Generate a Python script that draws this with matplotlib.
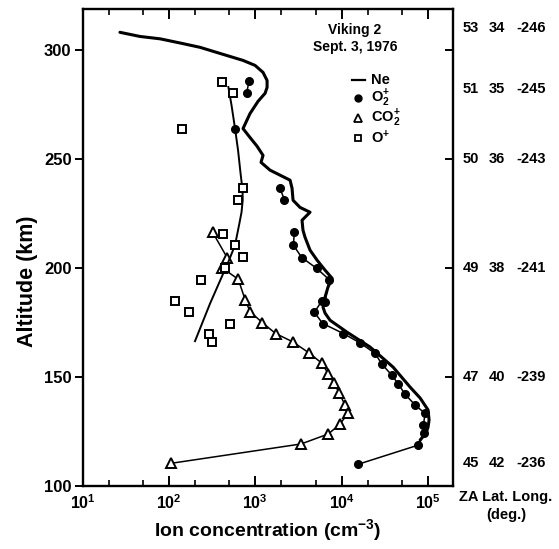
import numpy as np
import matplotlib
matplotlib.use('Agg')
import matplotlib.pyplot as plt
from matplotlib.ticker import NullFormatter, LogLocator

plt.rcParams['font.family'] = ['Liberation Sans', 'DejaVu Sans']
plt.rcParams['font.weight'] = 'bold'
plt.rcParams['axes.labelweight'] = 'bold'
plt.rcParams['mathtext.fontset'] = 'custom'
plt.rcParams['mathtext.rm'] = 'Liberation Sans:bold'
plt.rcParams['mathtext.it'] = 'Liberation Sans:bold:italic'
plt.rcParams['mathtext.bf'] = 'Liberation Sans:bold'
plt.rcParams['mathtext.default'] = 'rm'

# ---------------- data ----------------
# Ne (solid curve): concentration (cm^-3), altitude (km)
ne_conc = [27, 46, 79, 134, 229, 390, 720, 993, 1228, 1368, 1368, 1297, 1074, 868, 720,
           868, 1047, 1228, 1164, 1482, 1936, 2527, 2663, 2735, 3296, 4302, 3475, 3566,
           3765, 4302, 5187, 6420, 7740, 6950, 6420, 6085, 6420, 7340, 11560, 21330,
           39400, 62100, 81100, 100300, 103000, 100300, 95100, 81100]
ne_alt = [308.3, 306.4, 305.3, 303.4, 301.4, 298.6, 295.4, 293.1, 289.9, 286.2, 283.0,
          280.3, 276.6, 271.0, 264.1, 260.0, 256.0, 251.8, 248.6, 245.0, 242.7, 240.4,
          236.7, 231.2, 227.9, 225.7, 222.0, 217.4, 214.2, 208.3, 203.7, 199.1, 195.4,
          191.3, 186.7, 182.1, 179.4, 176.1, 170.6, 163.8, 154.6, 145.4, 140.4, 134.9,
          130.3, 127.1, 124.3, 121.1]

# O2+ (filled circles); NaN separates unconnected groups
o2_conc = [845, 795, np.nan, 582, np.nan, 1933, 2168, np.nan, 2832, 2757, 3448, 5145,
           7150, 6425, 5875, 4830, 6040, 10470, 16330, 24400, 29160, 38100, 45400,
           54300, 70900, 92700, 88500, 90800, 77500, 15600]
o2_alt = [285.9, 280.6, np.nan, 264.1, np.nan, 236.6, 231.5, np.nan, 216.4, 210.6,
          204.9, 199.9, 194.8, 184.5, 184.9, 179.7, 174.6, 170.0, 165.7, 160.9, 156.0,
          150.9, 146.8, 142.1, 137.2, 133.3, 128.0, 124.2, 118.8, 110.0]

# CO2+ (open triangles)
co2_conc = [321, 474, 408, 635, 760, 869, 1205, 1720, 2710, 4190, 5930, 7010, 8230,
            9400, 10940, 11770, 9570, 7010, 3390, 105]
co2_alt = [216.4, 204.7, 200.3, 194.9, 185.6, 180.1, 175.0, 170.0, 166.2, 161.1, 156.3,
           151.4, 147.1, 142.5, 137.2, 133.3, 128.4, 123.9, 119.3, 110.4]

# O+ (open squares) and O+ curve
op_conc = [408, 556, 140, 714, 625, 419, 582, 726, 449, 235, 116, 172, 509, 291, 318]
op_alt = [285.5, 280.6, 264.1, 236.6, 231.5, 215.9, 210.7, 205.2, 199.9, 194.8, 185.0,
          179.7, 174.6, 169.7, 165.9]
opl_conc = [487, 530, 582, 631, 674, 711, 714, 692, 653, 582, 487, 408, 299, 200]
opl_alt = [283.2, 274.8, 264.1, 254.1, 243.6, 235.8, 231.2, 225.7, 220.5, 210.6, 202.9,
           196.0, 183.8, 166.5]

# right-hand annotation (zenith angle, latitude, longitude)
za = ['53', '51', '50', '49', '47', '45']
lat = ['34', '35', '36', '38', '40', '42']
lon = ['-246', '-245', '-243', '-241', '-239', '-236']
label_alt = [310.5, 282.5, 250, 200, 150, 110.5]

yticks = [100, 150, 200, 250, 300]
legend_labels = ['Ne', r'O$_2^{+}$', r'CO$_2^{+}$', r'O$^{+}$']

# ---------------- figure ----------------
W, H = 559, 549
fig = plt.figure(figsize=(W / 100, H / 100), dpi=100)
L, R, B, T = 82.7, 453, 486, 9
YMIN, YMAX = 100, 319
ax = fig.add_axes([L / W, 1 - B / H, (R - L) / W, (B - T) / H])

ax.plot(ne_conc, ne_alt, color='black', lw=2.2, solid_capstyle='round',
        solid_joinstyle='round')
ax.plot(o2_conc, o2_alt, color='black', lw=1.1, marker='o', ms=5.5,
        mfc='black', mec='black')
ax.plot(co2_conc, co2_alt, color='black', lw=1.1, marker='^', ms=6.5,
        mfc='white', mec='black', mew=1.4)
ax.plot(opl_conc, opl_alt, color='black', lw=1.4, solid_joinstyle='round')
ax.plot(op_conc, op_alt, ls='none', marker='s', ms=5.5, mfc='white', mec='black',
        mew=1.4)

ax.set_xscale('log')
ax.set_xlim(10, 1.95e5)
ax.set_ylim(YMIN, YMAX)

for s in ax.spines.values():
    s.set_linewidth(1.7)

ax.xaxis.set_major_locator(LogLocator(base=10, numticks=10))
ax.xaxis.set_minor_locator(LogLocator(base=10, subs=(2, 5), numticks=10))
ax.xaxis.set_minor_formatter(NullFormatter())
ax.tick_params(axis='x', which='major', direction='in', top=True, bottom=True,
               length=7, width=1.4, labelsize=11.5, pad=5)
ax.tick_params(axis='x', which='minor', direction='in', top=True, bottom=True,
               length=4, width=1.2)
ax.set_yticks(yticks)
ax.tick_params(axis='y', which='major', direction='out', left=True, right=False,
               length=6, width=1.4, labelsize=12, pad=2)

ax2 = ax.twinx()
ax2.set_ylim(ax.get_ylim())
ax2.set_yticks(yticks[1:])
ax2.tick_params(axis='y', direction='in', length=6, width=1.4, labelright=False)
for s in ax2.spines.values():
    s.set_visible(False)

ax.set_ylabel('Altitude (km)', fontsize=15.5)
ax.yaxis.set_label_coords(-0.12, 0.43)
ax.set_xlabel('Ion concentration (cm$^{-3}$)', fontsize=14, labelpad=4)

# title text
fig.text(355 / W, 1 - 30 / H, 'Viking 2', ha='center', va='center', fontsize=10)
fig.text(355 / W, 1 - 47 / H, 'Sept. 3, 1976', ha='center', va='center', fontsize=10)

# legend built by hand
leg_y = [80, 98, 118, 138]
mx = 358
fig.lines.append(plt.Line2D([352 / W, 365 / W], [1 - leg_y[0] / H] * 2, color='black',
                            lw=1.6, transform=fig.transFigure))
fig.lines.append(plt.Line2D([mx / W], [1 - leg_y[1] / H], color='black', marker='o',
                            ms=5, ls='none', transform=fig.transFigure))
fig.lines.append(plt.Line2D([mx / W], [1 - leg_y[2] / H], color='black', marker='^',
                            ms=5.5, mfc='white', mew=1.3, ls='none',
                            transform=fig.transFigure))
fig.lines.append(plt.Line2D([mx / W], [1 - leg_y[3] / H], color='black', marker='s',
                            ms=5, mfc='white', mew=1.3, ls='none',
                            transform=fig.transFigure))
for lab, yy in zip(legend_labels, leg_y):
    fig.text(371 / W, 1 - yy / H, lab, ha='left', va='center', fontsize=10.5)

# right annotations
for a, b, c, yy in zip(za, lat, lon, label_alt):
    ypx = B - (yy - YMIN) / (YMAX - YMIN) * (B - T)
    fy = 1 - ypx / H
    fig.text(463 / W, fy, a, ha='left', va='center', fontsize=10.5)
    fig.text(489 / W, fy, b, ha='left', va='center', fontsize=10.5)
    fig.text(516 / W, fy, c, ha='left', va='center', fontsize=10.5)
fig.text(506 / W, 1 - 497 / H, 'ZA Lat. Long.', ha='center', va='center', fontsize=10.5)
fig.text(506 / W, 1 - 515 / H, '(deg.)', ha='center', va='center', fontsize=10.5)

fig.savefig('out.png', dpi=100)
